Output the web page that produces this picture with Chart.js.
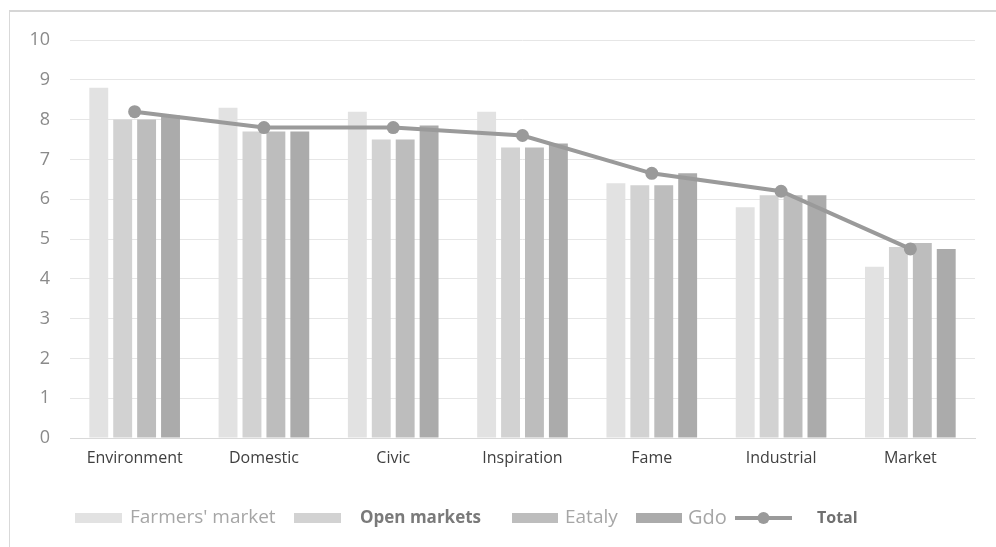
<!DOCTYPE html>
<html>
<head>
<meta charset="utf-8">
<script src="https://cdn.jsdelivr.net/npm/chart.js@4.4.1/dist/chart.umd.min.js"></script>
<style>
  html, body { margin: 0; padding: 0; background: #ffffff; }
  #wrap { position: relative; width: 996px; height: 547px; }
  #frame { position: absolute; left: 9px; top: 10px; right: 0; bottom: 0;
           border-left: 1px solid #d9d9d9; border-top: 2px solid #d6d6d6; pointer-events: none; }
  canvas { position: absolute; left: 0; top: 0; }
</style>
</head>
<body>
<div id="wrap">
  <canvas id="chart" width="996" height="547"></canvas>
  <div id="frame"></div>
</div>
<script>
// Categories and scores per market channel
const categories = ['Environment', 'Domestic', 'Civic', 'Inspiration', 'Fame', 'Industrial', 'Market'];
const farmersMarket = [8.8, 8.3, 8.2, 8.2, 6.4, 5.8, 4.3];
const openMarkets   = [8.0, 7.7, 7.5, 7.3, 6.35, 6.1, 4.8];
const eataly        = [8.0, 7.7, 7.5, 7.3, 6.35, 6.1, 4.9];
const gdo           = [8.1, 7.7, 7.85, 7.4, 6.65, 6.1, 4.75];
const total         = [8.2, 7.8, 7.8, 7.6, 6.65, 6.2, 4.75];
const yTicks        = [0, 1, 2, 3, 4, 5, 6, 7, 8, 9, 10];

const FONT = "'Open Sans', 'DejaVu Sans', sans-serif";

// Legend with individually styled entries
const legendItems = [
  { label: "Farmers' market", type: 'box', color: '#e2e2e2', x: 75,  w: 47, tx: 130, weight: 'normal', size: 19, text: '#a6a6a6' },
  { label: 'Open markets',    type: 'box', color: '#d2d2d2', x: 294, w: 47, tx: 360, weight: 'bold',   size: 17, text: '#7a7a7a' },
  { label: 'Eataly',          type: 'box', color: '#bdbdbd', x: 512, w: 46, tx: 565, weight: 'normal', size: 19, text: '#a6a6a6' },
  { label: 'Gdo',             type: 'box', color: '#ababab', x: 636, w: 46, tx: 688, weight: 'normal', size: 20, text: '#a6a6a6' },
  { label: 'Total',           type: 'line', color: '#9a9a9a', x: 735, w: 57, tx: 817, weight: 'bold',  size: 16, text: '#707070' }
];

const customLegend = {
  id: 'customLegend',
  afterDraw(chart) {
    const ctx = chart.ctx;
    const cy = 518;
    ctx.save();
    legendItems.forEach(it => {
      if (it.type === 'box') {
        ctx.fillStyle = it.color;
        ctx.fillRect(it.x, cy - 5, it.w, 10);
      } else {
        ctx.strokeStyle = it.color;
        ctx.lineWidth = 4;
        ctx.beginPath();
        ctx.moveTo(it.x, cy);
        ctx.lineTo(it.x + it.w, cy);
        ctx.stroke();
        ctx.fillStyle = it.color;
        ctx.beginPath();
        ctx.arc(it.x + it.w / 2, cy, 6, 0, Math.PI * 2);
        ctx.fill();
      }
      ctx.fillStyle = it.text;
      ctx.font = it.weight + ' ' + it.size + 'px ' + FONT;
      ctx.textBaseline = 'middle';
      ctx.textAlign = 'left';
      ctx.fillText(it.label, it.tx, cy);
    });
    ctx.restore();
  }
};

const barCommon = { categoryPercentage: 0.74, barPercentage: 0.79, order: 2 };

new Chart(document.getElementById('chart'), {
  data: {
    labels: categories,
    datasets: [
      { type: 'line', label: 'Total', data: total, borderColor: '#9a9a9a', backgroundColor: '#9a9a9a',
        borderWidth: 4, pointRadius: 6.5, pointHoverRadius: 6.5, pointBackgroundColor: '#9a9a9a',
        pointBorderWidth: 0, tension: 0, order: 0 },
      Object.assign({ type: 'bar', label: "Farmers' market", data: farmersMarket, backgroundColor: '#e2e2e2' }, barCommon),
      Object.assign({ type: 'bar', label: 'Open markets', data: openMarkets, backgroundColor: '#d2d2d2' }, barCommon),
      Object.assign({ type: 'bar', label: 'Eataly', data: eataly, backgroundColor: '#bdbdbd' }, barCommon),
      Object.assign({ type: 'bar', label: 'Gdo', data: gdo, backgroundColor: '#ababab' }, barCommon)
    ]
  },
  options: {
    responsive: false,
    animation: false,
    events: [],
    layout: { padding: { left: 0, right: 21, top: 40, bottom: 73 } },
    plugins: { legend: { display: false }, tooltip: { enabled: false } },
    scales: {
      x: {
        grid: { display: false, drawTicks: false },
        border: { display: true, color: '#d9d9d9', width: 1 },
        ticks: { color: '#404040', padding: 11, font: { family: FONT, size: 16 } },
        afterFit(scale) { scale.height = 36; }
      },
      y: {
        min: 0, max: 10,
        afterBuildTicks(scale) { scale.ticks = yTicks.map(v => ({ value: v })); },
        grid: { color: '#e6e6e6', lineWidth: 1, drawTicks: false },
        border: { display: false },
        ticks: { color: '#8a8a8a', padding: 20, font: { family: FONT, size: 18 } },
        afterFit(scale) { scale.width = 70; }
      }
    }
  },
  plugins: [customLegend]
});
</script>
</body>
</html>
